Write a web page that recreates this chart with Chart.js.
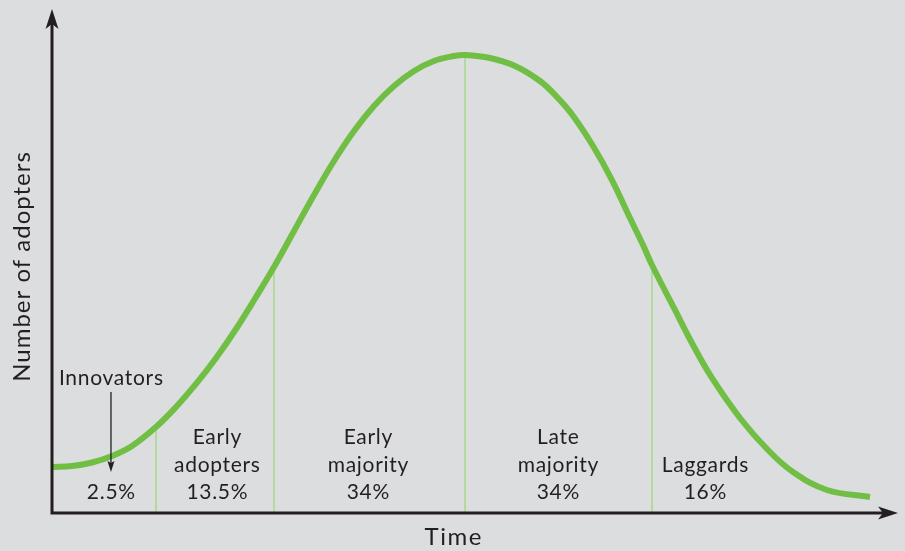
<!DOCTYPE html>
<html>
<head>
<meta charset="utf-8">
<script src="https://cdn.jsdelivr.net/npm/chart.js@4/dist/chart.umd.min.js"></script>
<style>
  html, body { margin: 0; padding: 0; background: #dcdddf; }
  #wrap { width: 905px; height: 551px; position: relative; }
</style>
</head>
<body>
<div id="wrap"><canvas id="c"></canvas></div>
<script>
// Adoption curve: time (0-100) against number of adopters (0-100)
const curveTime = [0, 2.36, 4.73, 7.09, 9.46, 12.29, 14.66, 17.02, 19.39, 21.75, 24.11, 26.24, 28.61, 30.97, 33.33, 35.70, 38.06, 40.43, 42.79, 45.15, 47.52, 48.82, 51.77, 54.73, 57.68, 59.57, 61.47, 63.95, 66.19, 68.32, 69.86, 70.92, 73.64, 75.77, 78.01, 81.32, 84.52, 87.59, 91.61, 96.69];
const curveAdopters = [9.13, 9.33, 10.02, 11.31, 13.29, 17.06, 21.03, 25.60, 30.75, 36.51, 42.86, 48.81, 55.95, 63.10, 69.84, 75.79, 80.75, 84.72, 87.70, 89.68, 90.67, 90.87, 90.28, 88.69, 85.71, 82.74, 79.07, 72.82, 66.07, 58.53, 53.17, 49.21, 40.28, 33.33, 26.79, 18.85, 12.70, 8.13, 4.56, 3.17];

// Category boundaries and the curve height at each one
const boundaryTimes = [12.29, 26.24, 48.82, 70.92];
const boundaryHeights = [17.06, 48.81, 90.87, 49.21];

// Adopter categories, their label lines and shares
const categoryNames = [["Innovators"], ["Early", "adopters"], ["Early", "majority"], ["Late", "majority"], ["Laggards"]];
const categoryShares = ["2.5%", "13.5%", "34%", "34%", "16%"];
const categoryCentres = [6.97, 19.5, 37.35, 59.81, 77.19];

const axisTitleX = "Time";
const axisTitleY = "Number of adopters";

const INK = "#231f20";
const GREEN = "#70be44";
const LIGHT_GREEN = "#a6d98a";
const FONT = "Lato, 'Noto Sans', sans-serif";

const curvePoints = curveTime.map((t, i) => ({ x: t, y: curveAdopters[i] }));
const boundarySets = boundaryTimes.map((t, i) => ({
  data: [{ x: t, y: 0 }, { x: t, y: boundaryHeights[i] }],
  borderColor: LIGHT_GREEN,
  borderWidth: 1.5,
  pointRadius: 0,
  tension: 0
}));

function arrowHead(ctx, tipX, tipY, dir, len, half, notch) {
  // dir: unit vector pointing toward the tip
  const [dx, dy] = dir;
  const px = -dy, py = dx;
  const bx = tipX - dx * len, by = tipY - dy * len;
  ctx.beginPath();
  ctx.moveTo(tipX, tipY);
  ctx.lineTo(bx + px * half, by + py * half);
  ctx.lineTo(tipX - dx * (len - notch), tipY - dy * (len - notch));
  ctx.lineTo(bx - px * half, by - py * half);
  ctx.closePath();
  ctx.fill();
}

function centredText(ctx, s, x, y, spacing) {
  ctx.letterSpacing = spacing + "px";
  ctx.fillText(s, x + spacing / 2, y);
}

const decorations = {
  id: "decorations",
  afterDatasetsDraw(chart) {
    const { ctx, chartArea: a, scales: { x, y } } = chart;
    ctx.save();

    // axes with arrowheads
    ctx.strokeStyle = INK;
    ctx.fillStyle = INK;
    ctx.lineWidth = 3;
    const ox = x.getPixelForValue(0), oy = y.getPixelForValue(0);
    ctx.beginPath();
    ctx.moveTo(ox, oy + 1.5);
    ctx.lineTo(ox, a.top + 14);
    ctx.moveTo(ox - 1.5, oy);
    ctx.lineTo(a.right - 14, oy);
    ctx.stroke();
    arrowHead(ctx, ox, a.top, [0, -1], 20, 6.5, 5);
    arrowHead(ctx, a.right, oy, [1, 0], 20, 6.5, 5);

    // axis titles
    ctx.textAlign = "center";
    ctx.textBaseline = "middle";
    ctx.font = "24px " + FONT;
    centredText(ctx, axisTitleX, 453, 537, 1.5);
    ctx.save();
    ctx.translate(22, 267);
    ctx.rotate(-Math.PI / 2);
    centredText(ctx, axisTitleY, 0, 0, 1);
    ctx.restore();

    // category labels
    ctx.font = "21px " + FONT;
    const sp = 0.7;
    const rowY = [15.08, 9.52, 4.17].map(v => y.getPixelForValue(v));
    categoryNames.forEach((lines, i) => {
      const cx = x.getPixelForValue(categoryCentres[i]);
      centredText(ctx, categoryShares[i], cx, rowY[2], sp);
      if (i === 0) return;
      const start = 2 - lines.length;
      lines.forEach((s, k) => centredText(ctx, s, cx, rowY[start + k], sp));
    });

    // innovators label with its pointer
    const ix = x.getPixelForValue(categoryCentres[0]);
    centredText(ctx, categoryNames[0][0], ix, y.getPixelForValue(26.79), sp);
    ctx.letterSpacing = "0px";
    ctx.lineWidth = 1.3;
    ctx.beginPath();
    ctx.moveTo(ix, y.getPixelForValue(24.0));
    ctx.lineTo(ix, y.getPixelForValue(8.13) - 8);
    ctx.stroke();
    arrowHead(ctx, ix, y.getPixelForValue(8.13), [0, 1], 11, 3.5, 2);

    ctx.restore();
  }
};

new Chart(document.getElementById("c"), {
  type: "line",
  data: {
    datasets: [
      {
        data: curvePoints,
        borderColor: GREEN,
        borderWidth: 6,
        borderCapStyle: "butt",
        pointRadius: 0,
        tension: 0.4
      },
      ...boundarySets
    ]
  },
  options: {
    responsive: true,
    maintainAspectRatio: false,
    animation: false,
    events: [],
    layout: { padding: { left: 52, right: 7, top: 9, bottom: 38 } },
    plugins: { legend: { display: false }, tooltip: { enabled: false } },
    scales: {
      x: { type: "linear", min: 0, max: 100, display: false },
      y: { type: "linear", min: 0, max: 100, display: false }
    }
  },
  plugins: [decorations]
});
</script>
</body>
</html>
